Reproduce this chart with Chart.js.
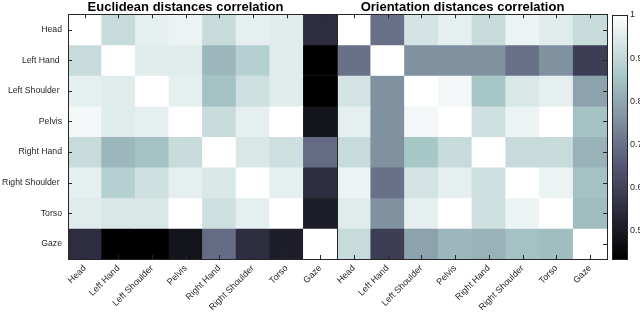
<!DOCTYPE html>
<html>
<head>
<meta charset="utf-8">
<script src="https://cdn.jsdelivr.net/npm/chart.js@4.4.1/dist/chart.umd.min.js"></script>
<style>
  html, body { margin: 0; padding: 0; background: #fff; overflow: hidden; width: 640px; height: 314px; }
  canvas { position: absolute; top: 0; }
  #c1 { left: 0; }
  #c2 { left: 317px; }
  #cb { left: 600px; }
</style>
</head>
<body>
<canvas id="c1" width="371" height="314"></canvas>
<canvas id="c2" width="291" height="314"></canvas>
<canvas id="cb" width="60" height="314"></canvas>
<script>
/* ---------- Dados ---------- */
const PARTS      = ['Head', 'Left Hand', 'Left Shoulder', 'Pelvis', 'Right Hand', 'Right Shoulder', 'Torso', 'Gaze'];
const ROW_LABELS = ['Head', 'Left Hand ', 'Left Shoulder ', 'Pelvis', 'Right Hand', 'Right Shoulder ', 'Torso', 'Gaze'];

const EUCLID = [
  [1.00, 0.91, 0.96, 0.97, 0.91, 0.96, 0.95, 0.55],
  [0.91, 1.00, 0.95, 0.95, 0.83, 0.88, 0.95, 0.43],
  [0.96, 0.95, 1.00, 0.96, 0.85, 0.92, 0.95, 0.43],
  [0.98, 0.95, 0.96, 1.00, 0.91, 0.96, 1.00, 0.485],
  [0.91, 0.83, 0.85, 0.91, 1.00, 0.94, 0.92, 0.69],
  [0.96, 0.88, 0.92, 0.96, 0.94, 1.00, 0.96, 0.55],
  [0.95, 0.94, 0.94, 1.00, 0.92, 0.96, 1.00, 0.51],
  [0.55, 0.43, 0.43, 0.485, 0.69, 0.55, 0.51, 1.00],
];

const ORIENT = [
  [1.00, 0.70, 0.93, 0.96, 0.91, 0.97, 0.95, 0.91],
  [0.70, 1.00, 0.76, 0.76, 0.76, 0.70, 0.76, 0.59],
  [0.93, 0.76, 1.00, 0.98, 0.86, 0.94, 0.96, 0.79],
  [0.96, 0.76, 0.98, 1.00, 0.92, 0.97, 1.00, 0.85],
  [0.91, 0.76, 0.86, 0.91, 1.00, 0.91, 0.91, 0.82],
  [0.97, 0.70, 0.93, 0.96, 0.92, 1.00, 0.97, 0.85],
  [0.95, 0.76, 0.96, 1.00, 0.92, 0.97, 1.00, 0.84],
  [0.91, 0.59, 0.79, 0.83, 0.82, 0.85, 0.84, 1.00],
];

const C_MIN = 0.435;
const C_MAX = 1;
const CBAR_TICKS = [0.5, 0.6, 0.7, 0.8, 0.9, 1];

const FONT = "'Liberation Sans', Arial, sans-serif";
const AXIS_COLOR = '#262626';

/* ---------- Colormap "bone" (MATLAB) ---------- */
function bone(v) {
  const t  = Math.min(1, Math.max(0, (v - C_MIN) / (C_MAX - C_MIN)));
  const hr = Math.min(1, t / 0.375);
  const hg = Math.min(1, Math.max(0, (t - 0.375) / 0.375));
  const hb = Math.max(0, (t - 0.75) / 0.25);
  const r = (7 * t + hb) / 8, g = (7 * t + hg) / 8, b = (7 * t + hr) / 8;
  return `rgb(${Math.round(r * 255)},${Math.round(g * 255)},${Math.round(b * 255)})`;
}

/* ---------- Moldura + ticks internos ---------- */
const boxTicks = {
  id: 'boxTicks',
  afterDatasetsDraw(chart, args, opts) {
    const { ctx, chartArea: a, scales } = chart;
    ctx.save();
    ctx.strokeStyle = AXIS_COLOR;
    ctx.lineWidth = 1;
    ctx.beginPath();
    if (opts.x) {
      scales.x.ticks.forEach((t, i) => {
        const px = Math.round(scales.x.getPixelForTick(i)) + 0.5;
        ctx.moveTo(px, a.bottom); ctx.lineTo(px, a.bottom - 4);
        ctx.moveTo(px, a.top);    ctx.lineTo(px, a.top + 4);
      });
    }
    scales.y.ticks.forEach((t, i) => {
      const py = Math.round(scales.y.getPixelForTick(i)) + 0.5;
      if (opts.left)  { ctx.moveTo(a.left, py);  ctx.lineTo(a.left + 4, py); }
      if (opts.right) { ctx.moveTo(a.right, py); ctx.lineTo(a.right - 4, py); }
    });
    ctx.stroke();
    ctx.strokeRect(Math.round(a.left) + 0.5, Math.round(a.top) + 0.5,
                   Math.round(a.right - a.left), Math.round(a.bottom - a.top));
    ctx.restore();
  }
};

/* ---------- Heatmap (barras flutuantes, uma por célula) ---------- */
function heatmap(id, title, matrix, yWidth, rightWidth, showY, sides) {
  return new Chart(document.getElementById(id), {
    type: 'bar',
    data: {
      labels: PARTS,
      datasets: matrix.map((row, r) => ({
        data: row.map(() => [r, r + 1]),
        backgroundColor: row.map(bone),
        borderWidth: 0,
        grouped: false,
        barPercentage: 1,
        categoryPercentage: 1,
      })),
    },
    options: {
      responsive: false,
      animation: false,
      layout: { padding: 0 },
      plugins: {
        legend: { display: false },
        tooltip: { enabled: false },
        title: {
          display: true, text: title, color: '#000', padding: 0,
          font: { family: FONT, size: 13, weight: 'bold', lineHeight: 1.1 },
        },
        boxTicks: sides,
      },
      scales: {
        x: {
          grid: { display: false, drawTicks: false },
          border: { display: false },
          ticks: {
            color: AXIS_COLOR, font: { family: FONT, size: 9 },
            minRotation: 45, maxRotation: 45, autoSkip: false, padding: 4,
          },
          afterFit: s => { s.height = 55; },
        },
        y: {
          min: 0, max: 8, reverse: true,
          grid: { display: false, drawTicks: false },
          border: { display: false },
          afterBuildTicks: s => { s.ticks = PARTS.map((_, i) => ({ value: i + 0.5 })); },
          ticks: {
            display: showY, color: AXIS_COLOR, font: { family: FONT, size: 8.7 }, padding: 6,
            callback: (v, i) => ROW_LABELS[i],
          },
          afterFit: s => { s.width = yWidth; },
        },
        // eixo vazio só para reservar espaço à direita (centraliza o título)
        yR: {
          type: 'linear', position: 'right', min: 0, max: 8,
          grid: { display: false, drawTicks: false },
          border: { display: false },
          ticks: { display: false },
          afterFit: s => { s.width = rightWidth; },
        },
      },
    },
    plugins: [boxTicks],
  });
}

heatmap('c1', 'Euclidean distances correlation', EUCLID, 68, 34, true,
        { x: true, left: true, right: false });
heatmap('c2', 'Orientation distances correlation', ORIENT, 20, 1, false,
        { x: true, left: false, right: true });

/* ---------- Barra de cores ---------- */
new Chart(document.getElementById('cb'), {
  type: 'bar',
  data: {
    labels: [''],
    datasets: [{
      data: [[C_MIN, C_MAX]],
      backgroundColor: c => {
        const a = c.chart.chartArea;
        if (!a) return null;
        const g = c.chart.ctx.createLinearGradient(0, a.bottom, 0, a.top);
        for (let k = 0; k <= 40; k++) g.addColorStop(k / 40, bone(C_MIN + k / 40 * (C_MAX - C_MIN)));
        return g;
      },
      borderWidth: 0,
      barPercentage: 1,
      categoryPercentage: 1,
    }],
  },
  options: {
    responsive: false,
    animation: false,
    layout: { padding: { left: 12, right: 0, top: 15, bottom: 55 } },
    plugins: { legend: { display: false }, tooltip: { enabled: false }, boxTicks: { x: false } },
    scales: {
      x: { display: false },
      y: {
        position: 'right', min: C_MIN, max: C_MAX,
        grid: { display: false, drawTicks: false },
        border: { display: false },
        afterBuildTicks: s => { s.ticks = CBAR_TICKS.map(v => ({ value: v })); },
        ticks: { color: AXIS_COLOR, font: { family: FONT, size: 9 }, padding: 3, callback: v => String(v) },
        afterFit: s => { s.width = 33; },
      },
    },
  },
  plugins: [boxTicks],
});
</script>
</body>
</html>
